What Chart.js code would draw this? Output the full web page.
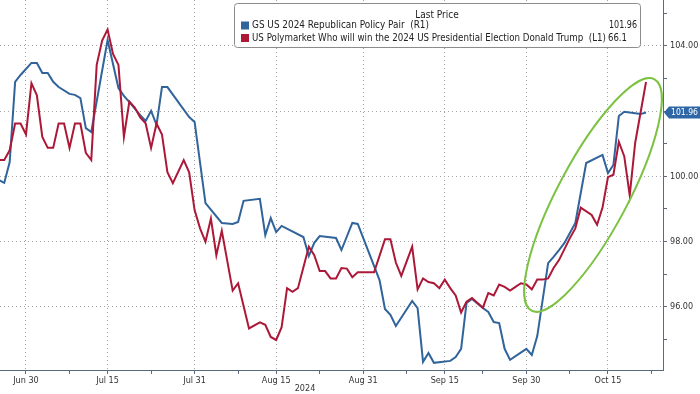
<!DOCTYPE html>
<html><head><meta charset="utf-8">
<script src="https://cdn.jsdelivr.net/npm/chart.js@4.4.1/dist/chart.umd.min.js"></script>
<style>html,body{margin:0;padding:0;background:#fff}#wrap{width:700px;height:394px;position:relative}</style>
</head><body><div id="wrap"><canvas id="c"></canvas></div>
<script>
// ---- data (2024) ----
const seriesNames = ['GS US 2024 Republican Policy Pair  (R1)',
  'US Polymarket Who will win the 2024 US Presidential Election Donald Trump  (L1)'];
const blueDates = ['06-25','06-26','06-27','06-28','06-29','07-01','07-02','07-03','07-04','07-05','07-06','07-08','07-09','07-10','07-11','07-12','07-15','07-17','07-18','07-19','07-21','07-22','07-23','07-24','07-25','07-26','07-30','07-31','08-02','08-05','08-07','08-08','08-09','08-12','08-13','08-14','08-15','08-16','08-20','08-21','08-22','08-23','08-26','08-27','08-29','08-30','09-03','09-04','09-05','09-06','09-09','09-10','09-11','09-12','09-13','09-16','09-17','09-18','09-19','09-20','09-22','09-23','09-24','09-25','09-26','09-27','09-30','10-01','10-02','10-04','10-05','10-06','10-07','10-09','10-11','10-14','10-15','10-16','10-17','10-18','10-21','10-22'];
const blueValues = [99.89,99.80,100.44,102.90,103.11,103.48,103.48,103.17,103.17,102.90,102.74,102.53,102.50,102.40,101.48,101.36,104.18,102.71,102.47,102.28,101.88,101.70,102.01,101.58,102.74,102.74,101.82,101.67,99.18,98.57,98.54,98.60,99.25,99.31,98.20,98.72,98.29,98.48,98.14,97.56,97.96,98.17,98.11,97.74,98.57,98.54,96.82,95.93,95.75,95.41,96.18,95.96,94.31,94.58,94.28,94.34,94.46,94.71,96.12,96.24,95.96,95.84,95.53,95.50,94.71,94.37,94.71,94.52,95.10,97.34,97.53,97.74,97.96,98.57,100.41,100.66,100.10,100.35,101.85,101.98,101.91,101.96];
const redDates = ['06-25','06-26','06-27','06-28','06-29','06-30','07-01','07-02','07-03','07-04','07-05','07-06','07-07','07-08','07-09','07-10','07-11','07-12','07-13','07-14','07-15','07-16','07-17','07-18','07-19','07-20','07-21','07-22','07-23','07-24','07-25','07-26','07-27','07-29','07-30','07-31','08-01','08-02','08-03','08-04','08-05','08-07','08-08','08-10','08-12','08-13','08-14','08-15','08-16','08-17','08-18','08-19','08-21','08-22','08-23','08-24','08-25','08-26','08-27','08-28','08-29','08-30','09-02','09-04','09-05','09-06','09-07','09-09','09-10','09-11','09-12','09-13','09-14','09-15','09-16','09-17','09-18','09-19','09-20','09-22','09-23','09-24','09-25','09-26','09-27','09-28','09-29','09-30','10-01','10-02','10-03','10-04','10-05','10-06','10-08','10-09','10-10','10-12','10-13','10-14','10-15','10-16','10-17','10-18','10-19','10-20','10-22'];
const redValues = [59.7,59.7,60.5,62.7,62.7,61.8,66.0,65.0,61.6,60.7,60.7,62.7,62.7,60.7,62.7,62.7,60.3,59.7,67.5,69.5,70.4,68.4,67.5,61.6,64.5,64.0,63.2,62.7,60.7,62.7,61.8,58.7,57.8,59.7,58.7,55.6,54.1,53.0,54.9,51.9,53.9,49.0,49.6,45.9,46.4,46.2,45.2,44.95,46.0,49.2,48.9,49.2,52.6,51.9,50.6,50.6,50.0,50.0,50.85,50.8,50.1,50.5,50.5,53.2,53.2,51.3,50.2,52.6,49.1,50.0,49.7,49.6,49.2,49.9,49.2,48.6,47.2,48.1,48.4,47.6,48.8,48.6,49.5,49.3,49.0,49.3,49.6,49.5,49.1,49.9,49.9,50.0,50.85,51.5,53.3,54.1,55.8,55.2,54.4,55.8,58.3,58.5,61.2,60.0,56.8,61.1,66.1];
const xTickDates = ['06-30','07-15','07-31','08-15','08-31','09-15','09-30','10-15'];
const xTickLabels = ['Jun 30','Jul 15','Jul 31','Aug 15','Aug 31','Sep 15','Sep 30','Oct 15'];
const xMinorDates = ['07-08','07-23','08-08','08-23','09-08','09-22','10-08','10-23'];
const yearLabel = '2024';
const rightLabelStep = 2;

// ---- helpers ----
const DAY0 = Date.UTC(2024,0,0);
const toDay = s => { const [m,d] = s.split('-').map(Number); return (Date.UTC(2024,m-1,d)-DAY0)/86400000; };
const FONT = '"DejaVu Sans Condensed", "Liberation Sans Narrow", "DejaVu Sans", sans-serif';
const BLUE = '#31649a', RED = '#ac1838', AXIS = '#5b6a7d', GRID = '#a3a3a3';
Chart.defaults.font.family = FONT;
Chart.defaults.font.size = 9;

const majorDays = xTickDates.map(toDay);
const minorDays = xMinorDates.map(toDay);
const labelMap = {}; majorDays.forEach((d,i)=> labelMap[d] = xTickLabels[i]);

const overlay = {
  id:'overlay',
  afterDatasetsDraw(chart){
    const {ctx, scales:{x, yR}} = chart;
    const cx = x.getPixelForValue(toDay('10-12') + 0.25), cy = yR.getPixelForValue(99.43);
    ctx.save();
    ctx.beginPath();
    ctx.ellipse(cx, cy, 131, 35, -62*Math.PI/180, 0, 2*Math.PI);
    ctx.strokeStyle = '#7cc242'; ctx.lineWidth = 2; ctx.stroke();
    ctx.restore();
  },
  afterDraw(chart){
    const {ctx, scales:{x, yR}, chartArea} = chart;
    ctx.save();
    // legend box
    const bx = 234.5, by = 3.5, bw = 406, bh = 44;
    ctx.beginPath(); ctx.roundRect(bx, by, bw, bh, 3);
    ctx.fillStyle = '#fff'; ctx.fill();
    ctx.strokeStyle = '#8c8c8c'; ctx.lineWidth = 1; ctx.stroke();
    ctx.font = '10px ' + FONT; ctx.fillStyle = '#222'; ctx.textBaseline = 'middle';
    ctx.textAlign = 'center'; ctx.fillText('Last Price', 437, 15.5, 46);
    ctx.textAlign = 'left';
    ctx.fillStyle = BLUE; ctx.fillRect(241, 21.5, 8, 8);
    ctx.fillStyle = RED; ctx.fillRect(241, 34, 8, 8);
    ctx.fillStyle = '#222';
    ctx.fillText(seriesNames[0], 252, 25.5, 177);
    ctx.fillText(seriesNames[1], 252, 38, 354);
    const lastBlue = blueValues[blueValues.length-1], lastRed = redValues[redValues.length-1];
    ctx.fillText(lastBlue.toFixed(2), 609, 25.5, 28);
    ctx.fillText(lastRed.toFixed(1), 608, 38, 19);
    // last value tag
    const ty = yR.getPixelForValue(lastBlue), ax = chartArea.right + 1;
    ctx.beginPath();
    ctx.moveTo(ax, ty); ctx.lineTo(ax+5, ty-6); ctx.lineTo(700, ty-6); ctx.lineTo(700, ty+6); ctx.lineTo(ax+5, ty+6); ctx.closePath();
    ctx.fillStyle = '#2f66a6'; ctx.fill();
    ctx.fillStyle = '#fff'; ctx.font = '9px ' + FONT;
    ctx.fillText(lastBlue.toFixed(2), ax+7, ty+0.5, 27);
    // year
    ctx.fillStyle = '#333'; ctx.textAlign = 'center';
    ctx.fillText(yearLabel, x.getPixelForValue(toDay('08-20') + 0.3), 388.5);
    ctx.restore();
  }
};

new Chart(document.getElementById('c'), {
  type: 'line',
  data: { datasets: [
    { label: seriesNames[1], data: redDates.map((d,i)=>({x: toDay(d), y: redValues[i]})), yAxisID:'yL',
      borderColor: RED, borderWidth: 2, pointRadius: 0, tension: 0, order: 0 },
    { label: seriesNames[0], data: blueDates.map((d,i)=>({x: toDay(d), y: blueValues[i]})), yAxisID:'yR',
      borderColor: BLUE, borderWidth: 2, pointRadius: 0, tension: 0, order: 1 }
  ]},
  options: {
    responsive: true, maintainAspectRatio: false, animation: false, events: [],
    layout: { padding: 0 },
    plugins: { legend: { display: false }, tooltip: { enabled: false } },
    scales: {
      x: {
        type: 'linear', min: 177.22, max: 299.12,
        afterBuildTicks: s => { s.ticks = [...majorDays, ...minorDays].sort((a,b)=>a-b).map(v=>({value:v})); },
        ticks: { autoSkip: false, maxRotation: 0, minRotation: 0, padding: 1, color: '#333', font: { size: 9 },
                 callback: v => labelMap[v] || '' },
        grid: { color: c => (c.tick && labelMap[c.tick.value]) ? GRID : 'rgba(0,0,0,0)',
                tickColor: AXIS, tickLength: 4, lineWidth: 1 },
        border: { display: true, color: AXIS, width: 1, dash: [1,3] },
        afterFit: s => { s.height = 24; s.paddingLeft = 0; s.paddingRight = 0; }
      },
      yR: {
        type: 'linear', position: 'right', min: 94.06, max: 105.41,
        ticks: { stepSize: 1, includeBounds: false, autoSkip: false, padding: 3, color: '#333', font: { size: 9 },
                 callback: v => (Math.round(v) % rightLabelStep === 0) ? v.toFixed(2) : '' },
        grid: { color: c => (c.tick && Math.round(c.tick.value) % rightLabelStep === 0) ? GRID : 'rgba(0,0,0,0)',
                tickColor: AXIS, tickLength: 4, lineWidth: 1 },
        border: { display: true, color: AXIS, width: 1, dash: [1,3] },
        afterFit: s => { s.width = 37; s.paddingTop = 0; s.paddingBottom = 0; }
      },
      yL: { type: 'linear', position: 'left', display: false, min: 42.49, max: 72.82 }
    }
  },
  plugins: [overlay]
});
</script>
</body></html>
